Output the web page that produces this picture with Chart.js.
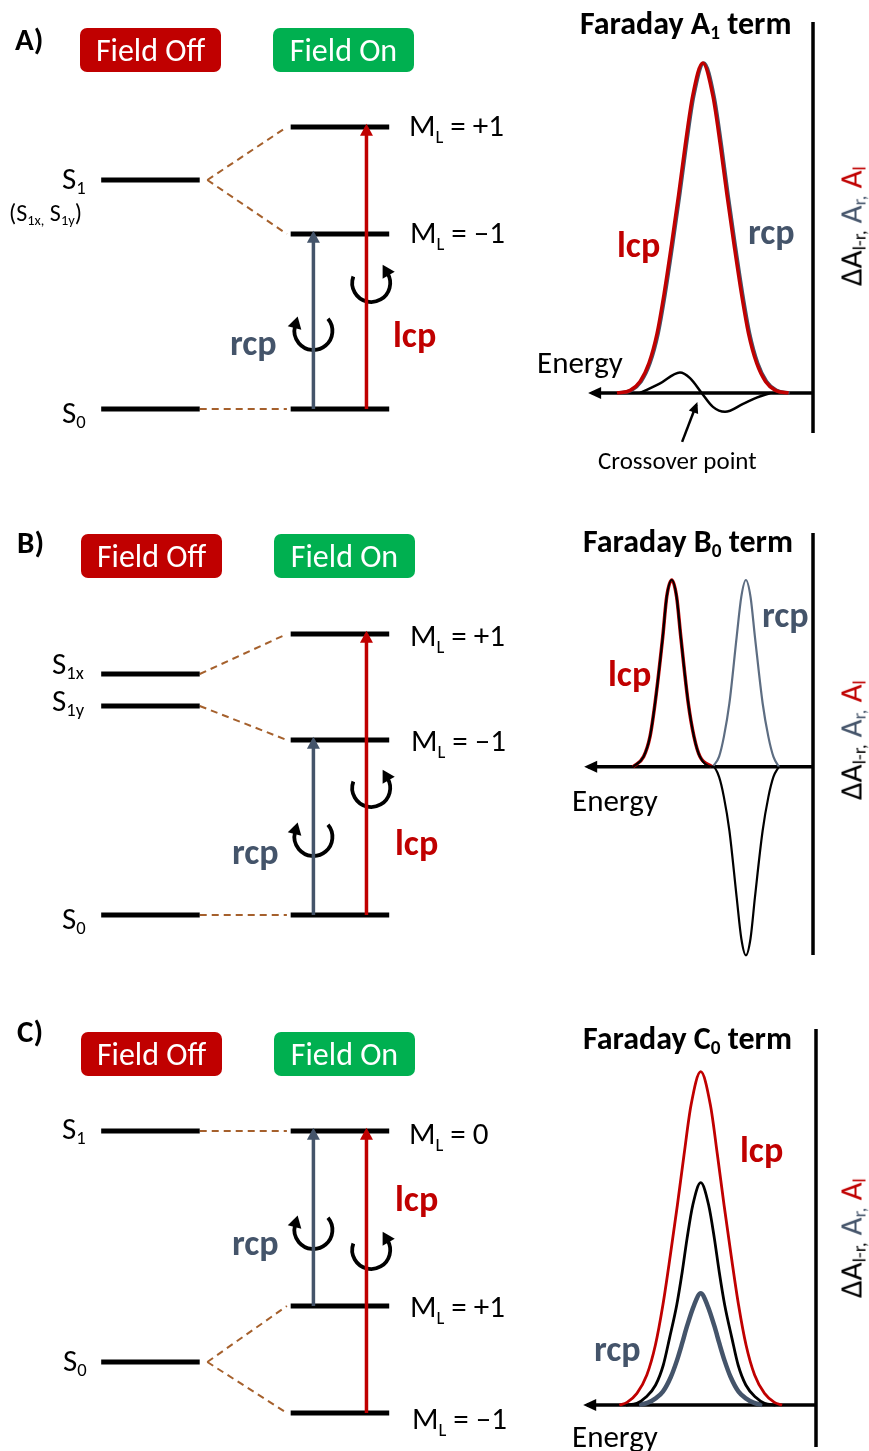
<!DOCTYPE html>
<html>
<head>
<meta charset="utf-8">
<script src="https://cdn.jsdelivr.net/npm/chart.js@4.4.0/dist/chart.umd.min.js"></script>
<style>
  body { margin: 0; background: #fff; }
  #fig { position: relative; width: 869px; height: 1451px; overflow: hidden;
         font-family: Carlito, Lato, "Noto Sans", sans-serif; color: #000; }
  canvas { position: absolute; }
  .t { position: absolute; white-space: nowrap; line-height: 1; transform: translateY(-50%); }
  .b { font-weight: bold; }
  .red { color: #C00000; }
  .gray { color: #44546A; }
  sub { font-size: 0.6em; vertical-align: -0.28em; line-height: 0; }
  .ml sub { vertical-align: -0.42em; }
  .box { position: absolute; width: 141px; height: 44px; border-radius: 7px; color: #fff;
         display: flex; align-items: center; justify-content: center; font-size: 32px; }
  .ylab { position: absolute; white-space: nowrap; font-size: 31px; line-height: 1;
          transform: translate(-50%, -50%) rotate(-90deg); }
  .ylab sub { font-size: 0.62em; vertical-align: -0.22em; }
</style>
</head>
<body>
<div id="fig">
  <canvas id="dA" width="530" height="490" style="left:0;top:0"></canvas>
  <canvas id="sA" width="339" height="490" style="left:530px;top:0"></canvas>
  <canvas id="dB" width="530" height="490" style="left:0;top:490px"></canvas>
  <canvas id="sB" width="339" height="490" style="left:530px;top:490px"></canvas>
  <canvas id="dC" width="530" height="471" style="left:0;top:980px"></canvas>
  <canvas id="sC" width="339" height="471" style="left:530px;top:980px"></canvas>
</div>
<script>
const RED = '#C00000', GREEN = '#00B050', GRAY = '#44546A', BROWN = '#A5602C';

// ---- energy level diagrams (energy, S0 = 0) ----
// panel A
const aOff = [0, 2.29];                 // S0, S1
const aOn = [0, 1.75, 2.82];            // S0, ML=-1, ML=+1
const aLinks = [[2.29, 2.82], [2.29, 1.75], [0, 0]];
const aRcp = [0, 1.75];
const aLcp = [0, 2.82];
// panel B
const bOff = [0, 2.09, 2.41];           // S0, S1y, S1x
const bOn = [0, 1.75, 2.81];
const bLinks = [[2.41, 2.81], [2.09, 1.75], [0, 0]];
const bRcp = [0, 1.75];
const bLcp = [0, 2.81];
// panel C
const cOff = [0, 2.31];                 // S0, S1
const cOn = [-0.51, 0.56, 2.31];        // ML=-1, ML=+1, ML=0
const cLinks = [[2.31, 2.31], [0, 0.56], [0, -0.51]];
const cRcp = [0.56, 2.31];
const cLcp = [-0.51, 2.31];

// ---- MCD spectra (energy vs absorbance) ----
const aLcpE = [8.91, 8.31, 7.86, 7.46, 7.09, 6.77, 6.43, 6.11, 5.81, 5.47, 5.01,
               4.55, 4.21, 3.91, 3.59, 3.25, 2.93, 2.56, 2.16, 1.71, 1.11];
const aLcpA = [0, 0.008, 0.035, 0.09, 0.18, 0.30, 0.45, 0.60, 0.75, 0.90, 1.0,
               0.90, 0.75, 0.60, 0.45, 0.30, 0.18, 0.09, 0.035, 0.008, 0];
const aRcpE = [8.86, 8.26, 7.81, 7.41, 7.04, 6.72, 6.38, 6.06, 5.76, 5.42, 4.96,
               4.50, 4.16, 3.86, 3.54, 3.20, 2.88, 2.51, 2.11, 1.66, 1.06];
const aRcpA = [0, 0.008, 0.035, 0.09, 0.18, 0.30, 0.45, 0.60, 0.75, 0.90, 1.0,
               0.90, 0.75, 0.60, 0.45, 0.30, 0.18, 0.09, 0.035, 0.008, 0];
const aDiffE = [7.86, 6.95, 6.05, 5.59, 5.06, 4.55, 4.0, 3.18, 2.56, 1.95];
const aDiffA = [0, 0.029, 0.062, 0.045, 0, -0.042, -0.057, -0.033, -0.014, 0];

const bLcpE = [8.18, 7.70, 7.41, 7.18, 6.83, 6.65, 6.42, 6.20, 6.01, 5.67, 5.41, 5.14, 4.60];
const bLcpA = [0, 0.054, 0.161, 0.34, 0.696, 0.91, 1.0, 0.91, 0.696, 0.34, 0.161, 0.054, 0];
const bRcpE = [4.55, 4.27, 4.05, 3.80, 3.47, 3.26, 3.05, 2.84, 2.64, 2.29, 2.03, 1.80, 1.55];
const bRcpA = [0, 0.054, 0.161, 0.34, 0.696, 0.91, 1.0, 0.91, 0.696, 0.34, 0.161, 0.054, 0];
const bDiffE = [8.18, 7.70, 7.41, 7.18, 6.83, 6.65, 6.42, 6.20, 6.01, 5.67, 5.41, 5.14, 4.60,
                4.55, 4.27, 4.05, 3.80, 3.47, 3.26, 3.05, 2.84, 2.64, 2.29, 2.03, 1.80, 1.55];
const bDiffA = [0, 0.054, 0.161, 0.34, 0.696, 0.91, 1.0, 0.91, 0.696, 0.34, 0.161, 0.054, 0,
                0, -0.055, -0.163, -0.343, -0.70, -0.92, -1.01, -0.92, -0.70, -0.343, -0.163, -0.055, 0];

const cLcpE = [8.94, 8.59, 8.14, 7.69, 7.30, 6.96, 6.62, 6.30, 6.00, 5.68, 5.24,
               4.80, 4.48, 4.18, 3.86, 3.52, 3.18, 2.79, 2.34, 1.89, 1.54];
const cLcpA = [0, 0.008, 0.035, 0.09, 0.18, 0.30, 0.45, 0.60, 0.75, 0.90, 1.0,
               0.90, 0.75, 0.60, 0.45, 0.30, 0.18, 0.09, 0.035, 0.008, 0];
const cDiffE = [8.64, 8.14, 7.74, 7.29, 6.94, 6.66, 6.33, 6.08, 5.86, 5.60, 5.24,
                4.88, 4.62, 4.40, 4.15, 3.82, 3.54, 3.19, 2.74, 2.34, 1.84];
const cDiffA = [0, 0.005, 0.023, 0.06, 0.12, 0.20, 0.30, 0.40, 0.50, 0.60, 0.667,
                0.60, 0.50, 0.40, 0.30, 0.20, 0.12, 0.06, 0.023, 0.005, 0];
const cRcpE = [8.04, 7.64, 7.29, 6.96, 6.60, 6.32, 6.09, 5.87, 5.54, 5.24,
               4.94, 4.61, 4.39, 4.16, 3.88, 3.52, 3.19, 2.84, 2.44];
const cRcpA = [0, 0.007, 0.02, 0.04, 0.084, 0.134, 0.184, 0.235, 0.30, 0.335,
               0.30, 0.235, 0.184, 0.134, 0.084, 0.04, 0.02, 0.007, 0];

// arrow heads at the last point of flagged datasets
const arrowHeads = {
  id: 'arrowHeads',
  afterDatasetsDraw(chart) {
    const ctx = chart.ctx;
    chart.data.datasets.forEach((ds, i) => {
      if (!ds.head) return;
      const pts = chart.getDatasetMeta(i).data;
      const a = pts[pts.length - 2], b = pts[pts.length - 1];
      const ang = Math.atan2(b.y - a.y, b.x - a.x);
      const [L, W] = ds.head;
      const off = ds.borderWidth * L / W;
      ctx.save();
      ctx.translate(b.x, b.y);
      ctx.rotate(ang);
      ctx.beginPath();
      ctx.moveTo(off, 0);
      ctx.lineTo(off - L, W / 2);
      ctx.lineTo(off - L, -W / 2);
      ctx.closePath();
      ctx.fillStyle = ds.borderColor;
      ctx.fill();
      ctx.restore();
    });
  }
};

// circular polarisation symbols (drawn under the transition arrows)
function circArrows(items) {
  return {
    id: 'circArrows',
    beforeDatasetsDraw(chart) {
      const ctx = chart.ctx, xs = chart.scales.x, ys = chart.scales.y;
      items.forEach(c => {
        const cx = xs.getPixelForValue(c.x), cy = ys.getPixelForValue(c.y), r = 19;
        const a0 = (c.cw ? -40 : -30) * Math.PI / 180;
        const a1 = (c.cw ? 195 : 200) * Math.PI / 180;
        ctx.save();
        ctx.strokeStyle = '#000';
        ctx.lineWidth = 3.8;
        ctx.beginPath();
        ctx.arc(cx, cy, r, a0, a1);
        ctx.stroke();
        const th = c.cw ? a1 : a0;
        const dir = c.cw ? th + Math.PI / 2 : th - Math.PI / 2;
        ctx.translate(cx + r * Math.cos(th), cy + r * Math.sin(th));
        ctx.rotate(dir);
        ctx.beginPath();
        ctx.moveTo(10, 0);
        ctx.lineTo(-2, 7);
        ctx.lineTo(-2, -7);
        ctx.closePath();
        ctx.fillStyle = '#000';
        ctx.fill();
        ctx.restore();
      });
    }
  };
}

const zip = (xs, ys) => xs.map((x, i) => ({ x: x, y: ys[i] }));

function line(data, color, width, extra) {
  return Object.assign({ data: data, borderColor: color, borderWidth: width, showLine: true,
    pointRadius: 0, tension: 0, fill: false }, extra || {});
}

function makeChart(id, xr, yr, reverse, datasets, plugins) {
  return new Chart(document.getElementById(id), {
    type: 'scatter',
    data: { datasets: datasets.slice().reverse() },   // first listed = drawn first
    options: {
      responsive: false, animation: false, events: [],
      layout: { padding: 0 },
      plugins: { legend: { display: false }, tooltip: { enabled: false } },
      scales: {
        x: { type: 'linear', display: false, min: xr[0], max: xr[1], reverse: reverse },
        y: { type: 'linear', display: false, min: yr[0], max: yr[1] }
      }
    },
    plugins: [arrowHeads].concat(plugins || [])
  });
}

const HALF = 0.26;   // half width of a level bar, in column units
function diagram(id, yr, off, on, links, rcp, lcp, circ) {
  const ds = [];
  links.forEach(([e0, e1]) => {
    const split = links.filter(l => l[0] === e0).length > 1;
    ds.push(line([{ x: split ? 0.30 : HALF, y: e0 }, { x: 0.72, y: e1 }], BROWN, 2, { borderDash: [7, 5] }));
  });
  off.forEach(e => ds.push(line([{ x: -HALF, y: e }, { x: HALF, y: e }], '#000', 4.8)));
  on.forEach(e => ds.push(line([{ x: 1 - HALF, y: e }, { x: 1 + HALF, y: e }], '#000', 4.8)));
  ds.push(line([{ x: 0.86, y: rcp[0] }, { x: 0.86, y: rcp[1] }], GRAY, 3.5, { head: [12, 13] }));
  ds.push(line([{ x: 1.14, y: lcp[0] }, { x: 1.14, y: lcp[1] }], RED, 3.5, { head: [12, 13] }));
  makeChart(id, [-0.794, 2.003], yr, false, ds, [circArrows(circ)]);
}

diagram('dA', [-0.81, 4.09], aOff, aOn, aLinks, aRcp, aLcp,
  [{ x: 0.86, y: 0.78, cw: true }, { x: 1.165, y: 1.26, cw: false }]);
diagram('dB', [-0.65, 4.25], bOff, bOn, bLinks, bRcp, bLcp,
  [{ x: 0.86, y: 0.78, cw: true }, { x: 1.165, y: 1.27, cw: false }]);
diagram('dC', [-0.89, 3.82], cOff, cOn, cLinks, cRcp, cLcp,
  [{ x: 0.86, y: 1.32, cw: true }, { x: 1.165, y: 1.12, cw: false }]);

const curve = { cubicInterpolationMode: 'monotone', borderJoinStyle: 'round' };
function axes(top, bottom, tip) {
  return [
    line([{ x: 0, y: top }, { x: 0, y: bottom }], '#000', 3.5),
    line([{ x: 0, y: 0 }, { x: tip, y: 0 }], '#000', 3.5, { head: [13, 12] })
  ];
}

makeChart('sA', [-2.545, 12.864], [-0.294, 1.191], true, [
  ...axes(1.124, -0.121, 10.05),
  line(zip(aRcpE, aRcpA), GRAY, 3.5, curve),
  line(zip(aLcpE, aLcpA), RED, 3.5, curve),
  line(zip(aDiffE, aDiffA), '#000', 2.5, curve),
  line([{ x: 5.95, y: -0.148 }, { x: 5.30, y: -0.035 }], '#000', 2.5, { head: [11, 10] })
]);

makeChart('sB', [-2.545, 12.864], [-1.1425, 1.4821], true, [
  ...axes(1.252, -1.009, 10.23),
  line(zip(bRcpE, bRcpA), '#5D6D82', 2.2, curve),
  line(zip(bLcpE, bLcpA), RED, 3.5, curve),
  line(zip(bDiffE, bDiffA), '#000', 2.2, curve)
]);

makeChart('sC', [-2.409, 13.0], [-0.138, 1.2751], true, [
  ...axes(1.128, -0.126, 10.41),
  line(zip(cRcpE, cRcpA), GRAY, 4.5, curve),
  line(zip(cDiffE, cDiffA), '#000', 2.8, curve),
  line(zip(cLcpE, cLcpA), RED, 2.8, curve)
]);

// ---- text ----
const fig = document.getElementById('fig');
const boxes = [
  [80, 28, 'Field Off', RED], [273, 28, 'Field On', GREEN],
  [81, 534, 'Field Off', RED], [274, 534, 'Field On', GREEN],
  [81, 1032, 'Field Off', RED], [274, 1032, 'Field On', GREEN]
];
boxes.forEach(([x, y, txt, col]) => {
  const d = document.createElement('div');
  d.className = 'box';
  d.style.left = x + 'px'; d.style.top = y + 'px'; d.style.background = col;
  d.textContent = txt;
  fig.appendChild(d);
});

const ML = (v) => 'M<sub>L</sub> = ' + v;
const labels = [
  // html, left, centre y, size, class
  ['A)', 15, 39, 31, 'b'],
  ['S<sub>1</sub>', 62, 178, 31, ''],
  ['(S<sub>1x,</sub> S<sub>1y</sub>)', 9, 213, 24, ''],
  ['S<sub>0</sub>', 62, 412, 31, ''],
  [ML('+1'), 409, 125, 31, 'ml'],
  [ML('–1'), 410, 232, 31, 'ml'],
  ['rcp', 230, 343, 36, 'b gray'],
  ['lcp', 393, 335, 36, 'b red'],
  ['Faraday A<sub>1</sub> term', 580, 24, 32, 'b'],
  ['lcp', 617, 245, 36, 'b red'],
  ['rcp', 748, 232, 36, 'b gray'],
  ['Energy', 537, 362, 31, ''],
  ['Crossover point', 598, 460, 25, ''],

  ['B)', 17, 542, 31, 'b'],
  ['S<sub>1x</sub>', 52, 663, 31, ''],
  ['S<sub>1y</sub>', 52, 700, 31, ''],
  ['S<sub>0</sub>', 62, 918, 31, ''],
  [ML('+1'), 410, 635, 31, 'ml'],
  [ML('–1'), 411, 740, 31, 'ml'],
  ['rcp', 232, 852, 36, 'b gray'],
  ['lcp', 395, 843, 36, 'b red'],
  ['Faraday B<sub>0</sub> term', 583, 542, 32, 'b'],
  ['lcp', 608, 674, 36, 'b red'],
  ['rcp', 762, 615, 36, 'b gray'],
  ['Energy', 572, 800, 31, ''],

  ['C)', 17, 1031, 31, 'b'],
  ['S<sub>1</sub>', 62, 1128, 31, ''],
  ['S<sub>0</sub>', 63, 1360, 31, ''],
  [ML('0'), 409, 1133, 31, 'ml'],
  [ML('+1'), 410, 1306, 31, 'ml'],
  [ML('–1'), 412, 1418, 31, 'ml'],
  ['rcp', 232, 1243, 36, 'b gray'],
  ['lcp', 395, 1199, 36, 'b red'],
  ['Faraday C<sub>0</sub> term', 583, 1039, 32, 'b'],
  ['lcp', 740, 1150, 36, 'b red'],
  ['rcp', 594, 1349, 36, 'b gray'],
  ['Energy', 572, 1436, 31, '']
];
labels.forEach(([html, x, y, size, cls]) => {
  const d = document.createElement('div');
  d.className = 't ' + cls;
  d.style.left = x + 'px'; d.style.top = y + 'px'; d.style.fontSize = size + 'px';
  d.innerHTML = html;
  fig.appendChild(d);
});

// rotated y-axis titles
[226, 740, 1238].forEach(cy => {
  const d = document.createElement('div');
  d.className = 'ylab';
  d.style.left = '851px'; d.style.top = cy + 'px';
  d.innerHTML = 'ΔA<sub>l-r,</sub> <span class="gray">A<sub>r,</sub></span> <span class="red">A<sub>l</sub></span>';
  fig.appendChild(d);
});
</script>
</body>
</html>
